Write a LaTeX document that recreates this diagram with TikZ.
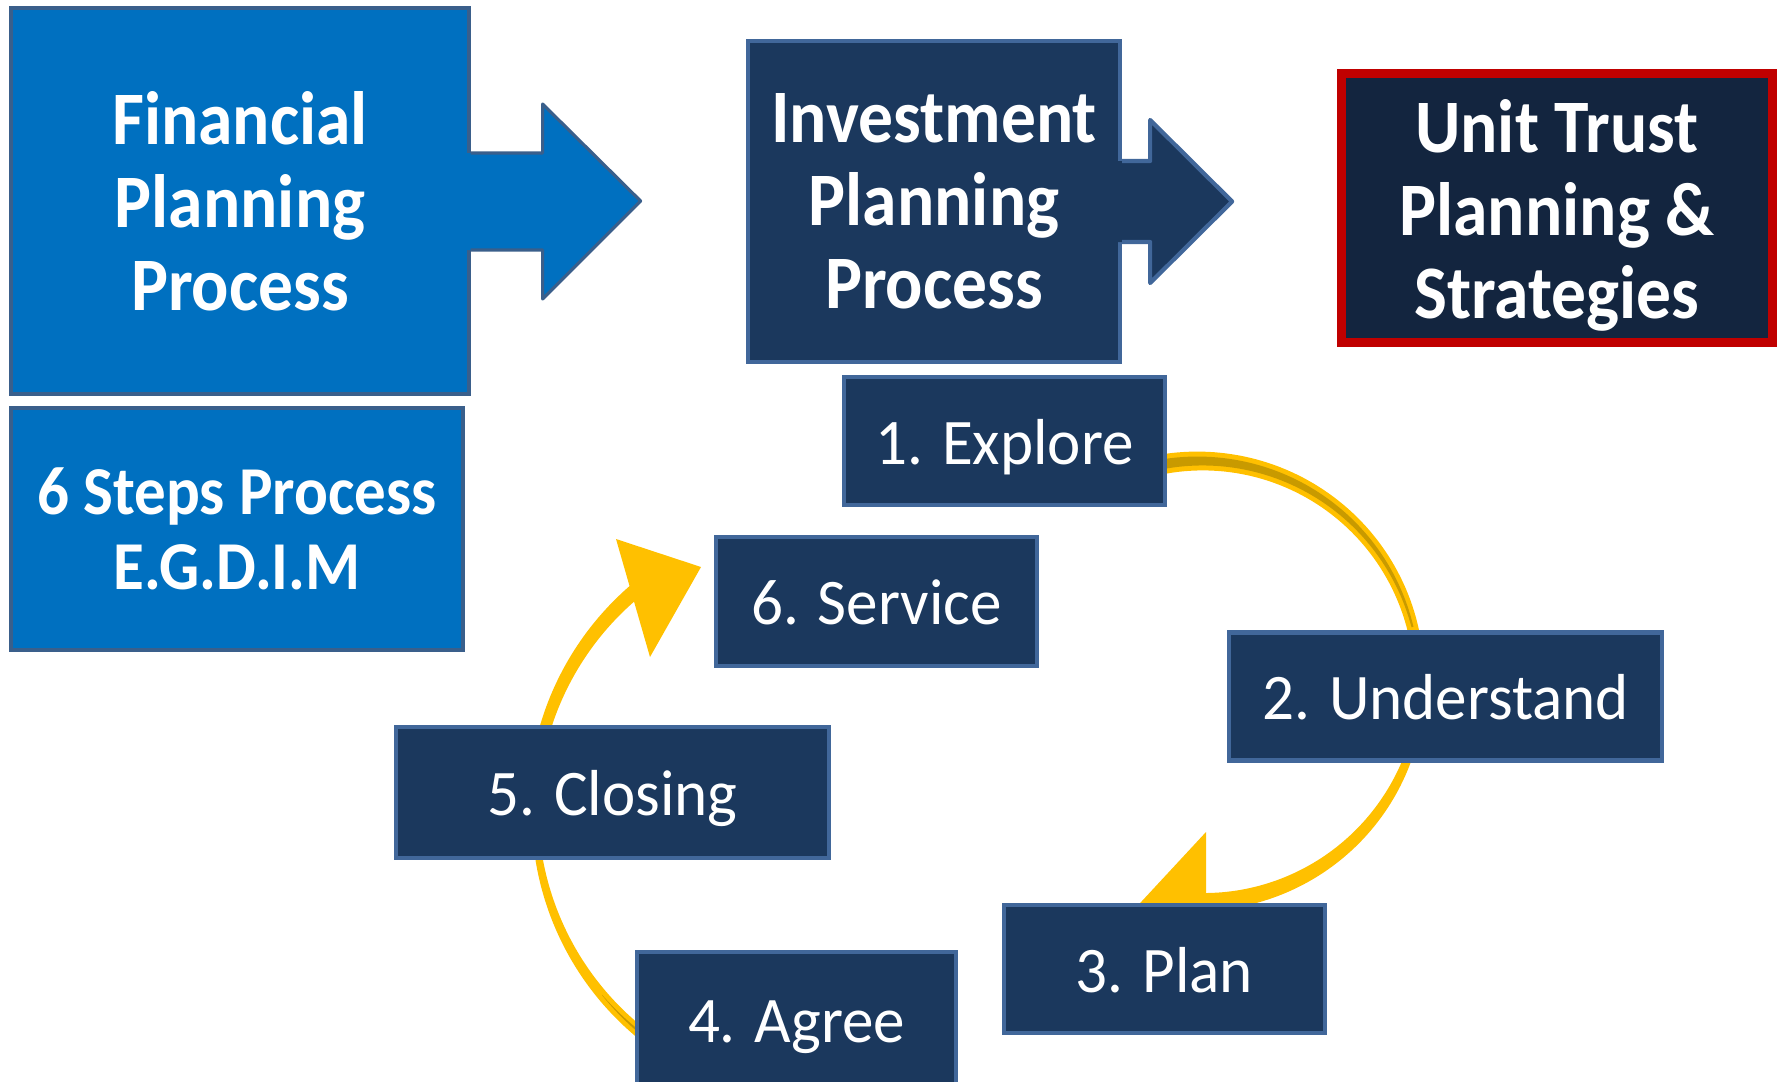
\documentclass[tikz,border=0pt]{standalone}
\usepackage{fontspec}
\setmainfont{Carlito}[FakeStretch=0.97]
\newfontfamily\headface{Carlito Bold}[FakeStretch=0.92]

\definecolor{fpblue}{HTML}{0070C0}
\definecolor{fpedge}{HTML}{3A5F8B}
\definecolor{navy}{HTML}{1B385D}
\definecolor{navyedge}{HTML}{41679A}
\definecolor{utnavy}{HTML}{13253F}
\definecolor{utred}{HTML}{C00000}
\definecolor{gold}{HTML}{FFC000}
\definecolor{darkgold}{HTML}{C89A00}

% band along a circle: colour, cx, cy, radius, from, to, width at start, width at end
\newcommand{\ringarc}[8]{%
	\fill[#1] plot[domain=#5:#6, samples=60] ({#2+(#4+(#7+((#8)-(#7))*(\x-(#5))/((#6)-(#5)))/2)*cos(\x)}, {#3+(#4+(#7+((#8)-(#7))*(\x-(#5))/((#6)-(#5)))/2)*sin(\x)})
		-- plot[domain=#6:#5, samples=60] ({#2+(#4-(#7+((#8)-(#7))*(\x-(#5))/((#6)-(#5)))/2)*cos(\x)}, {#3+(#4-(#7+((#8)-(#7))*(\x-(#5))/((#6)-(#5)))/2)*sin(\x)}) -- cycle;}

\begin{document}
\begin{tikzpicture}[x=0.1mm, y=-0.1mm,
		bluebox/.style={draw=fpedge, line width=0.9pt, fill=fpblue, text=white, align=center, inner sep=0pt},
		navybox/.style={draw=navyedge, line width=1.2pt, fill=navy, text=white, align=center, inner sep=0pt},
		headfont/.style={font=\fontsize{21.5}{23.6}\selectfont\headface},
		stepbox/.style={navybox, line width=1.4pt, minimum width=32.1mm, minimum height=12.8mm, text height=4.6mm, text depth=0pt, font=\fontsize{18.5}{22}\selectfont}]
	\useasboundingbox (0,0) rectangle (1779,1081);
	
	% the ring of steps
	\ringarc{gold}{1200}{680}{219}{-102}{-10}{20}{11}
	\ringarc{darkgold}{1200}{680}{219}{-102}{-14}{10}{2}
	\ringarc{gold}{1200}{680}{222}{18}{90}{8}{18}
	\fill[gold] (1206,832) -- (1206,972) -- (1129,915) -- cycle;
	\ringarc{gold}{821}{811}{286}{125}{174}{12}{7}
	\ringarc{darkgold}{821}{811}{286}{125}{140}{3}{0.3}
	\ringarc{gold}{821}{811}{288}{193}{232}{11}{15}
	\fill[gold] (616,539) -- (701,567) -- (650,657) -- cycle;
	
	\node[stepbox] (explore) at (1004.5,441) {1. Explore};
	\node[stepbox, minimum width=43.3mm] (understand) at (1445.5,696.5) {2. Understand};
	\node[stepbox] (plan) at (1164.5,969) {3. Plan};
	\node[stepbox, minimum width=31.9mm, minimum height=13.4mm] (agree) at (796.5,1019) {4. Agree};
	\node[stepbox, minimum width=43.3mm, minimum height=13.1mm] (closing) at (612.5,792.5) {5. Closing};
	\node[stepbox, minimum height=12.9mm] (service) at (876.5,601.5) {6. Service};
	
	% the three stages
	\node[bluebox, headfont, minimum width=45.8mm, minimum height=38.6mm] (fpp) at (240,201) {Financial\\Planning\\Process};
	\fill[fpblue] (fpp.east) ++(-6,-48) -- ++(78,0) -- ++(0,-49) -- ++(98,97) -- ++(-98,98) -- ++(0,-49) -- ++(-78,0) -- cycle;
	\draw[fpedge, line width=0.9pt, line join=round] (fpp.east) ++(0,-48) -- ++(72,0) -- ++(0,-49) -- ++(98,97) -- ++(-98,98) -- ++(0,-49) -- ++(-72,0);
	
	\node[bluebox, font=\fontsize{19.5}{21.5}\selectfont\headface, minimum width=45.2mm, minimum height=24.2mm] (egdim) at (237,529) {6 Steps Process\\E.G.D.I.M};
	
	\node[navybox, headfont, minimum width=37.2mm, minimum height=32.1mm] (ipp) at (934,201.5) {Investment\\Planning\\Process};
	\fill[navy] (ipp.east) ++(-6,-40.5) -- ++(34,0) -- ++(0,-41) -- ++(82,81.5) -- ++(-82,81.5) -- ++(0,-41) -- ++(-34,0) -- cycle;
	\draw[navyedge, line width=1.2pt, line join=round] (ipp.east) ++(0,-40.5) -- ++(28,0) -- ++(0,-41) -- ++(82,81.5) -- ++(-82,81.5) -- ++(0,-41) -- ++(-28,0);
	
	\node[draw=utred, line width=2.6pt, fill=utnavy, minimum width=43.1mm, minimum height=26.9mm] (utp) at (1557,208) {};
	\node[text=white, align=center, inner sep=0pt, headfont] (utptext) at (1557,215) {Unit Trust\\Planning \&\\Strategies};
	
\end{tikzpicture}
\end{document}
